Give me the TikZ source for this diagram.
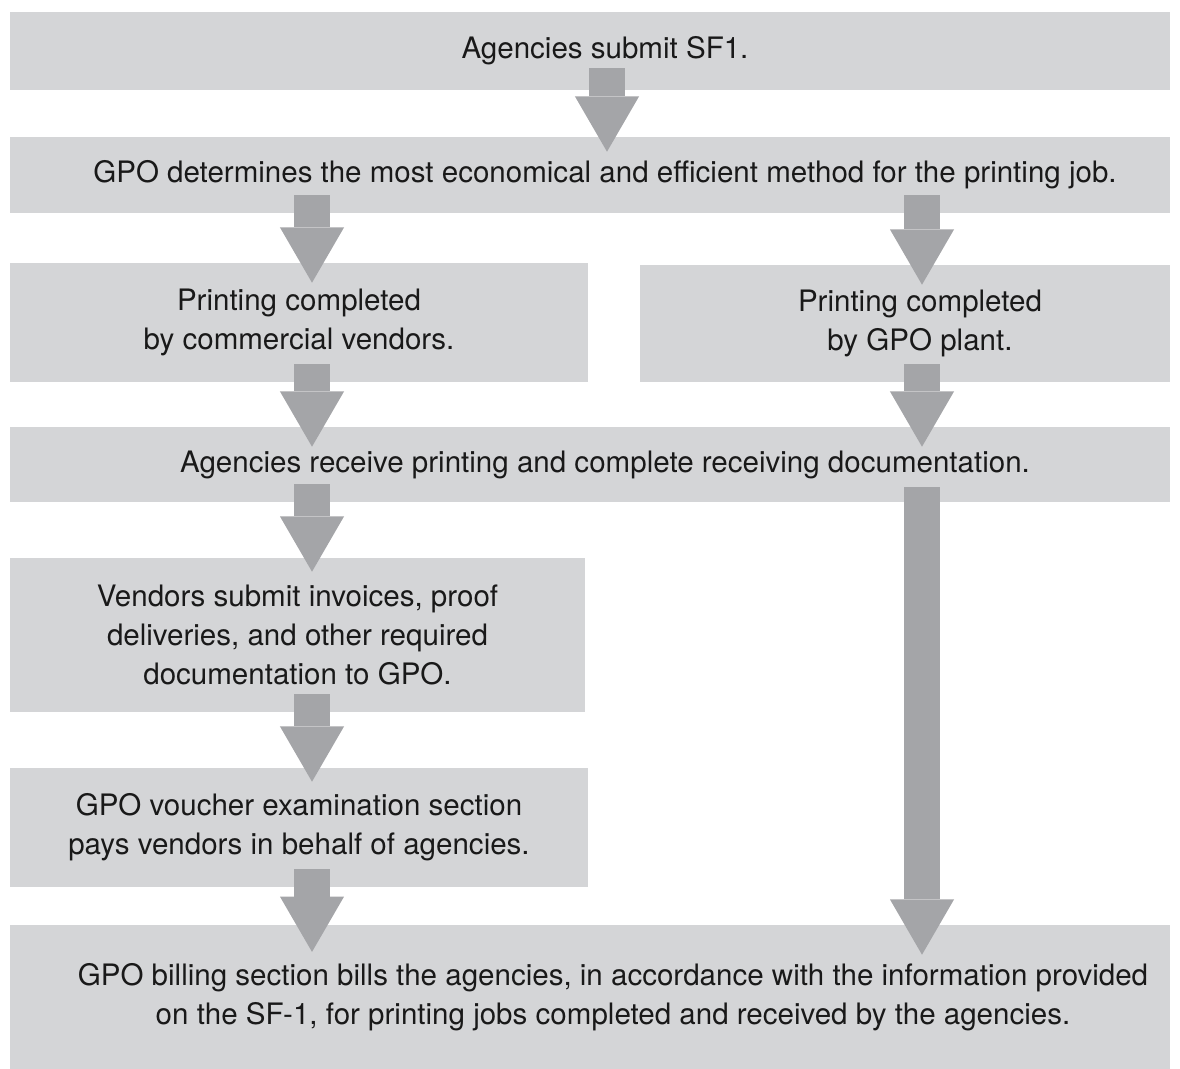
\documentclass[tikz,border=0pt]{standalone}
\usepackage{fontspec}
\setmainfont{TeX Gyre Heros}
\usetikzlibrary{arrows.meta}
\definecolor{boxgray}{RGB}{212,213,215}
\definecolor{arrowgray}{RGB}{164,165,168}
\newcommand{\shiftr}{\hspace*{0.75cm}}
\newcommand{\shiftrr}{\hspace*{1.15cm}}
\begin{document}
\begin{tikzpicture}
	[x=0.025cm, y=-0.025cm,
	every node/.style={fill=boxgray, inner sep=0pt, align=center, text=black!90,
		font=\fontsize{21}{27.5}\selectfont},
	flow/.style={draw=arrowgray, line width=0.92cm,
		-{Triangle[width=1.6cm,length=1.38cm,line width=0pt]},
		shorten <=-0.45cm, shorten >=-0.5cm}]
	\useasboundingbox (0,0) rectangle (1180,1069);
	% columns of the arrows
	\coordinate (mc) at (607,0);
	\coordinate (lc) at (312,0);
	\coordinate (rc) at (922,0);
	% steps
	\node[minimum width=29cm, minimum height=1.95cm] (submit) at (590,51) {\shiftr Agencies submit SF1.};
	\node[minimum width=29cm, minimum height=1.9cm] (method) at (590,175)
		{\shiftr GPO determines the most economical and efficient method for the printing job.};
	\node[minimum width=14.45cm, minimum height=2.975cm] (vendors) at (299,322.5)
		{Printing completed\\by commercial vendors.};
	\node[minimum width=13.25cm, minimum height=2.925cm] (plant) at (905,323.5)
		{\shiftr Printing completed\\\shiftr by GPO plant.};
	\node[minimum width=29cm, minimum height=1.875cm] (receive) at (590,464.5)
		{\shiftr Agencies receive printing and complete receiving documentation.};
	\node[minimum width=14.375cm, minimum height=3.85cm] (invoice) at (297.5,635)
		{Vendors submit invoices, proof\\deliveries, and other required\\documentation to GPO.};
	\node[minimum width=14.45cm, minimum height=2.975cm] (voucher) at (299,827.5)
		{GPO voucher examination section\\pays vendors in behalf of agencies.};
	\node[minimum width=29cm, minimum height=3.6cm] (billing) at (590,997)
		{\shiftrr GPO billing section bills the agencies, in accordance with the information provided\\
		\shiftrr on the SF-1, for printing jobs completed and received by the agencies.};
	% arrows
	\draw[flow, shorten <=-0.55cm, shorten >=-0.375cm] (submit.south -| mc) -- (method.north -| mc);
	\draw[flow] (method.south -| lc) -- (vendors.north -| lc);
	\draw[flow] (method.south -| rc) -- (plant.north -| rc);
	\draw[flow] (vendors.south -| lc) -- (receive.north -| lc);
	\draw[flow] (plant.south -| rc) -- (receive.north -| rc);
	\draw[flow, shorten >=-0.35cm] (receive.south -| lc) -- (invoice.north -| lc);
	\draw[flow, shorten <=-0.375cm, shorten >=-0.75cm] (receive.south -| rc) -- (billing.north -| rc);
	\draw[flow, shorten >=-0.35cm] (invoice.south -| lc) -- (voucher.north -| lc);
	\draw[flow, shorten >=-0.68cm] (voucher.south -| lc) -- (billing.north -| lc);
\end{tikzpicture}
\end{document}
